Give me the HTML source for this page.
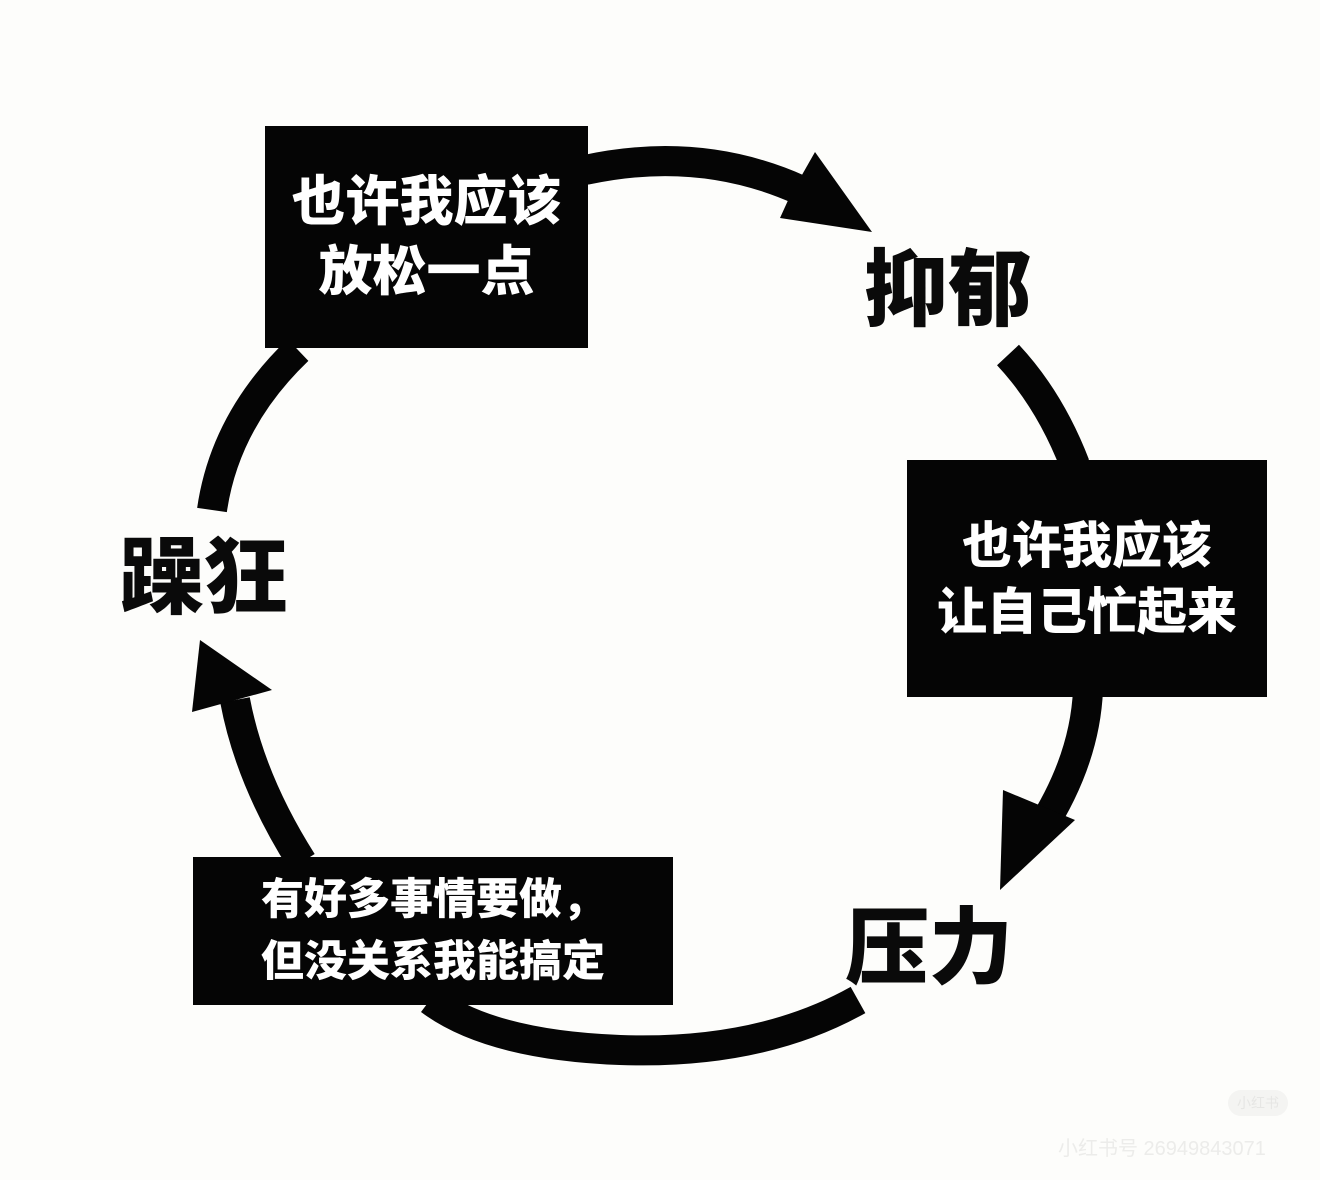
<!DOCTYPE html>
<html><head><meta charset="utf-8"><style>
html,body{margin:0;padding:0;background:#fdfdfb;}
body{width:1320px;height:1180px;overflow:hidden;position:relative;font-family:"Liberation Sans","Noto Sans CJK SC",sans-serif;}
svg{position:absolute;left:0;top:0;}
.box{position:absolute;background:#050505;color:#fff;font-weight:900;display:flex;flex-direction:column;justify-content:center;align-items:center;text-align:center;}
.lbl{position:absolute;font-weight:900;color:#0a0a0a;font-size:84px;line-height:1;letter-spacing:0px;}
</style></head><body>
<svg width="1320" height="1180" viewBox="0 0 1320 1180">
<g fill="none" stroke="#050505" stroke-width="30" stroke-linecap="butt">
<path d="M585 170 Q700 145 800 190"/>
<path d="M1008 355 Q1050 400 1075 465"/>
<path d="M1088 690 Q1085 760 1040 830"/>
<path d="M858 1000 Q760 1055 620 1050 Q490 1045 430 1000"/>
<path d="M302 862 Q250 780 235 700"/>
<path d="M298 350 Q225 420 212 510"/>
</g>
<polygon points="815,152 872,232 780,218 790,196" fill="#050505"/>
<polygon points="1003,790 1075,820 1000,890" fill="#050505"/>
<polygon points="200,640 272,690 192,712" fill="#050505"/>
</svg>
<div class="box" style="left:265px;top:126px;width:323px;height:222px;font-size:54px;line-height:70px;">也许我应该<br>放松一点</div>
<div class="box" style="left:907px;top:460px;width:360px;height:237px;font-size:50px;line-height:66px;">也许我应该<br>让自己忙起来</div>
<div class="box" style="left:193px;top:857px;width:480px;height:148px;font-size:43px;line-height:62px;">有好多事情要做，<br>但没关系我能搞定</div>
<div class="lbl" style="left:864px;top:248px;">抑郁</div>
<div class="lbl" style="left:120px;top:536px;">躁狂</div>
<div class="lbl" style="left:845px;top:906px;">压力</div>
<div style="position:absolute;left:1228px;top:1090px;width:60px;height:26px;border-radius:13px;background:#f4f4f2;color:#e6e6e4;font-size:14px;text-align:center;line-height:26px;">小红书</div>
<div style="position:absolute;left:1058px;top:1132px;color:#ececea;font-size:20px;">小红书号 26949843071</div>
</body></html>
